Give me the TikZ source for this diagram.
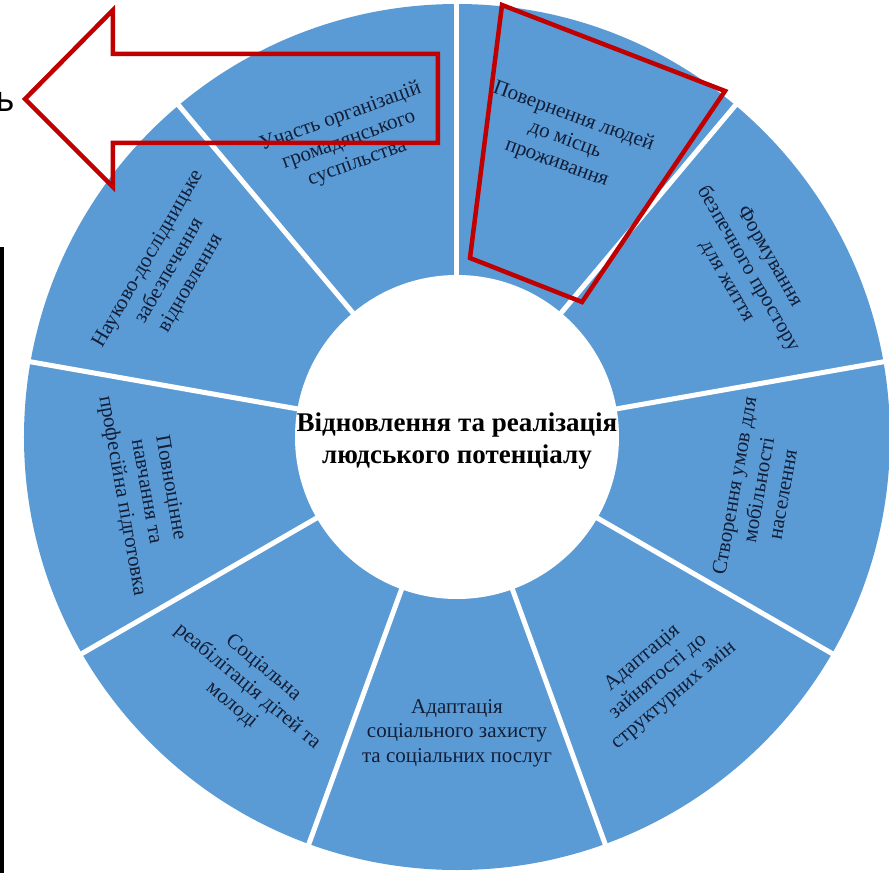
\documentclass[tikz,border=0pt]{standalone}
\usepackage{fontspec}
\setmainfont{Liberation Serif}
\newfontfamily\softfont{Carlito}
\definecolor{segblue}{RGB}{91,155,213}
\definecolor{arrred}{RGB}{192,0,0}
\definecolor{segtext}{RGB}{18,30,55}
\begin{document}
\begin{tikzpicture}[x=1pt,y=1pt,
  segtxt/.style={align=center,text=segtext,font=\fontsize{21}{24.5}\selectfont,inner sep=0pt},
  divider/.style={draw=white,line width=5pt},
  redline/.style={draw=arrred,line width=4.5pt,line join=miter}]
\useasboundingbox (-457,-436) rectangle (432,437);
\fill[white] (-457,-436) rectangle (432,437);
% ring
\fill[segblue] (0,0) circle (433);
\foreach \a in {90,50,...,-270} \draw[divider] (0,0) -- (\a:440);
\fill[white] (0,0) circle (162);
% centre text
\node[align=center,font=\bfseries\fontsize{27}{32}\selectfont,inner sep=0pt] (centre) at (0,-4)
  {Відновлення та реалізація\\людського потенціалу};
% segment labels
\node[segtxt,rotate=-20] (s1) at (70:316) {Повернення людей\\до місць\\проживання};
\node[segtxt,rotate=-60] (s2) at (30:336) {Формування\\безпечного простору\\для життя};
\node[segtxt,rotate=80] (s3) at (-10:306) {Створення умов для\\мобільності\\населення};
\node[segtxt,rotate=40] (s4) at (-50:313) {Адаптація\\зайнятості до\\структурних змін};
\node[segtxt,rotate=0] (s5) at (-90:296) {Адаптація\\соціального захисту\\та соціальних послуг};
\node[segtxt,rotate=-40] (s6) at (-130:326) {Соціальна\\реабілітація дітей та\\молоді};
\node[segtxt,rotate=-80] (s7) at (-170:316) {Повноцінне\\навчання та\\професійна підготовка};
\node[segtxt,rotate=60] (s8) at (150:332) {Науково-дослідницьке\\забезпечення\\відновлення};
\node[segtxt,rotate=20] (s9) at (110:316) {Участь організацій\\громадянського\\суспільства};
% red outlines
\draw[redline] (-432,338) -- (-344,427) -- (-344,383) -- (-19,383) -- (-19,294)
  -- (-344,294) -- (-344,250) -- cycle;
\draw[redline] (45,432) -- (268,346) -- (125,135) -- (13,179) -- cycle;
% left black bar
\fill[black] (-457,-436) rectangle (-453,190);
% cut-off letter
\node[font=\softfont\fontsize{40}{44}\selectfont,anchor=base east,inner sep=0pt] (soft) at (-443,325) {ь};
\end{tikzpicture}
\end{document}
